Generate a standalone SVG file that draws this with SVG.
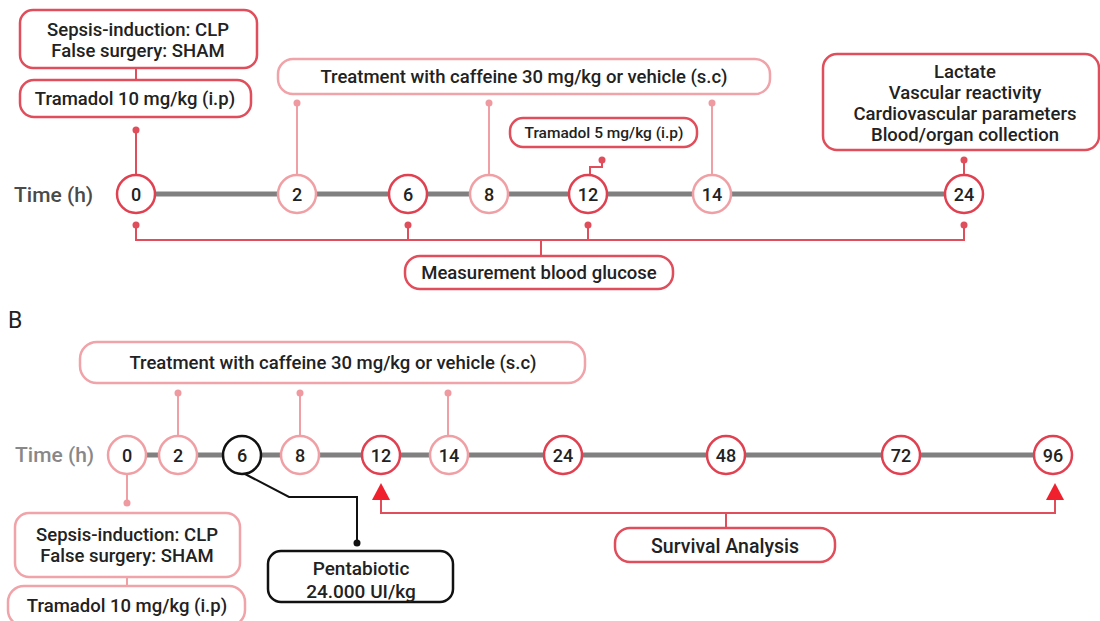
<svg xmlns="http://www.w3.org/2000/svg" width="1100" height="621" viewBox="0 0 1100 621">
<defs>
<style>
text{font-family:Roboto,"Liberation Sans",sans-serif;font-weight:500;fill:#222;text-anchor:middle}
.box{fill:#fff;stroke:#e04d5b;stroke-width:2.5}
.boxl{fill:#fff;stroke:#f0a3a8;stroke-width:2.5}
.boxk{fill:#fff;stroke:#111;stroke-width:2.5}
.c{fill:#fff;stroke:#e04050;stroke-width:2.5}
.cl{fill:#fff;stroke:#f0a0a5;stroke-width:2.5}
.ck{fill:#fff;stroke:#111;stroke-width:2.5}
.axis{stroke:#808080;stroke-width:5;fill:none}
.ln{stroke:#e04d5b;stroke-width:2;fill:none}
.lnl{stroke:#f0a0a5;stroke-width:2;fill:none}
.lnk{stroke:#111;stroke-width:2;fill:none}
.dot{fill:#e04d5b}
.dotl{fill:#ee9aa0}
.t{font-size:18.5px}
.n{font-size:18px}
.time{font-size:21px;text-anchor:start;fill:#4a4a4a}
</style>
</defs>

<!-- Panel A -->
<g id="connectors-A">
<line class="axis" x1="155" y1="194" x2="945" y2="194"/>
<line class="ln" x1="136" y1="68" x2="136" y2="80"/>
<line class="ln" x1="136" y1="130" x2="136" y2="175"/>
<circle class="dot" cx="136" cy="130" r="3.5"/>
<line class="lnl" x1="297" y1="103" x2="297" y2="175"/>
<circle class="dotl" cx="297" cy="103" r="3.5"/>
<line class="lnl" x1="489" y1="103" x2="489" y2="175"/>
<circle class="dotl" cx="489" cy="103" r="3.5"/>
<line class="lnl" x1="712" y1="103" x2="712" y2="175"/>
<circle class="dotl" cx="712" cy="103" r="3.5"/>
<polyline class="ln" points="602,160 602,167 590,167 590,175"/>
<circle class="dot" cx="602" cy="160" r="3.5"/>
<line class="ln" x1="964" y1="160" x2="964" y2="175"/>
<circle class="dot" cx="964" cy="160" r="3.5"/>
<polyline class="ln" points="136,225 136,240 964,240 964,225"/>
<line class="ln" x1="408" y1="225" x2="408" y2="240"/>
<line class="ln" x1="588" y1="225" x2="588" y2="240"/>
<line class="ln" x1="541" y1="240" x2="541" y2="256"/>
<circle class="dot" cx="136" cy="225" r="3.5"/>
<circle class="dot" cx="408" cy="225" r="3.5"/>
<circle class="dot" cx="588" cy="225" r="3.5"/>
<circle class="dot" cx="964" cy="225" r="3.5"/>
</g>

<g id="A-sepsis"><rect class="box" x="20" y="10" width="237" height="58" rx="13"/>
<text class="t" x="138" y="36">Sepsis-induction: CLP</text><text class="t" x="138" y="57">False surgery: SHAM</text></g>
<g id="A-tramadol10"><rect class="box" x="20" y="80" width="231" height="37" rx="14"/>
<text class="t" x="135" y="105">Tramadol 10 mg/kg (i.p)</text></g>
<g id="A-treatment"><rect class="boxl" x="278" y="59" width="492" height="35" rx="15"/>
<text class="t" x="524" y="83">Treatment with caffeine 30 mg/kg or vehicle (s.c)</text></g>
<g id="A-tramadol5"><rect class="box" x="510" y="118" width="187" height="29" rx="13"/>
<text x="604" y="138" style="font-size:15.5px">Tramadol 5 mg/kg (i.p)</text></g>
<g id="A-lactate"><rect class="box" x="823" y="54" width="276" height="96" rx="14"/>
<text class="t" x="965" y="78">Lactate</text>
<text class="t" x="965" y="99">Vascular reactivity</text>
<text class="t" x="965" y="120">Cardiovascular parameters</text>
<text class="t" x="965" y="141">Blood/organ collection</text></g>
<g id="A-glucose"><rect class="box" x="405" y="256" width="268" height="33" rx="15"/>
<text class="t" x="539" y="279">Measurement blood glucose</text></g>

<text class="time" x="14" y="202">Time (h)</text>
<g id="A-t0"><circle class="c" cx="136" cy="194" r="19"/><text class="n" x="136" y="200.5">0</text></g>
<g id="A-t2"><circle class="cl" cx="297" cy="194" r="19"/><text class="n" x="297" y="200.5">2</text></g>
<g id="A-t6"><circle class="c" cx="408" cy="194" r="19"/><text class="n" x="408" y="200.5">6</text></g>
<g id="A-t8"><circle class="cl" cx="489" cy="194" r="19"/><text class="n" x="489" y="200.5">8</text></g>
<g id="A-t12"><circle class="c" cx="588" cy="194" r="19"/><text class="n" x="588" y="200.5">12</text></g>
<g id="A-t14"><circle class="cl" cx="712" cy="194" r="19"/><text class="n" x="712" y="200.5">14</text></g>
<g id="A-t24"><circle class="c" cx="964" cy="194" r="19"/><text class="n" x="964" y="200.5">24</text></g>

<!-- Panel B -->
<text x="8" y="328" style="font-size:23px;font-weight:400;text-anchor:start">B</text>
<g id="connectors-B">
<line class="axis" x1="146" y1="455" x2="1034" y2="455"/>
<line class="lnl" x1="178" y1="393" x2="178" y2="436"/>
<circle class="dotl" cx="178" cy="393" r="3.5"/>
<line class="lnl" x1="300" y1="393" x2="300" y2="436"/>
<circle class="dotl" cx="300" cy="393" r="3.5"/>
<line class="lnl" x1="448" y1="393" x2="448" y2="436"/>
<circle class="dotl" cx="448" cy="393" r="3.5"/>
<line class="lnl" x1="127" y1="474" x2="127" y2="503"/>
<circle class="dotl" cx="127" cy="503" r="3.5"/>
<line class="lnl" x1="127" y1="577" x2="127" y2="586"/>
<polyline class="lnk" points="245,474 289,497 357,497 357,543"/>
<circle cx="357" cy="543" r="3.5" fill="#111"/>
<polyline class="ln" points="381,498 381,513 1055,513 1055,498"/>
<line class="ln" x1="726" y1="513" x2="726" y2="529"/>
<polygon points="381,483 372,500 390,500" fill="#f0202d"/>
<polygon points="1055,483 1046,500 1064,500" fill="#f0202d"/>
</g>

<g id="B-treatment"><rect class="boxl" x="80" y="342" width="505" height="41" rx="17"/>
<text class="t" x="333" y="369">Treatment with caffeine 30 mg/kg or vehicle (s.c)</text></g>
<g id="B-sepsis"><rect class="boxl" x="15" y="513" width="225" height="64" rx="14"/>
<text class="t" x="127" y="541">Sepsis-induction: CLP</text><text class="t" x="127" y="562">False surgery: SHAM</text></g>
<g id="B-tramadol10"><rect class="boxl" x="8" y="586" width="237" height="40" rx="16"/>
<text class="t" x="127" y="612">Tramadol 10 mg/kg (i.p)</text></g>
<g id="B-pentabiotic"><rect class="boxk" x="268" y="551" width="185" height="51" rx="13"/>
<text x="361" y="575" style="font-size:19px">Pentabiotic</text><text x="361" y="598" style="font-size:19px">24.000 UI/kg</text></g>
<g id="B-survival"><rect class="box" x="615" y="528" width="220" height="34" rx="15"/>
<text x="725" y="553" style="font-size:20px" textLength="148" lengthAdjust="spacingAndGlyphs">Survival Analysis</text></g>

<text class="time" x="15" y="462" style="fill:#888">Time (h)</text>
<g id="B-t0"><circle class="cl" cx="127" cy="455" r="19"/><text class="n" x="127" y="461.5">0</text></g>
<g id="B-t2"><circle class="cl" cx="178" cy="455" r="19"/><text class="n" x="178" y="461.5">2</text></g>
<g id="B-t6"><circle class="ck" cx="242" cy="455" r="19"/><text class="n" x="242" y="461.5">6</text></g>
<g id="B-t8"><circle class="cl" cx="300" cy="455" r="19"/><text class="n" x="300" y="461.5">8</text></g>
<g id="B-t12"><circle class="c" cx="381" cy="455" r="19"/><text class="n" x="381" y="461.5">12</text></g>
<g id="B-t14"><circle class="cl" cx="449" cy="455" r="19"/><text class="n" x="449" y="461.5">14</text></g>
<g id="B-t24"><circle class="c" cx="563" cy="455" r="19"/><text class="n" x="563" y="461.5">24</text></g>
<g id="B-t48"><circle class="c" cx="726" cy="455" r="19"/><text class="n" x="726" y="461.5">48</text></g>
<g id="B-t72"><circle class="c" cx="901" cy="455" r="19"/><text class="n" x="901" y="461.5">72</text></g>
<g id="B-t96"><circle class="c" cx="1053" cy="455" r="19"/><text class="n" x="1053" y="461.5">96</text></g>
</svg>
